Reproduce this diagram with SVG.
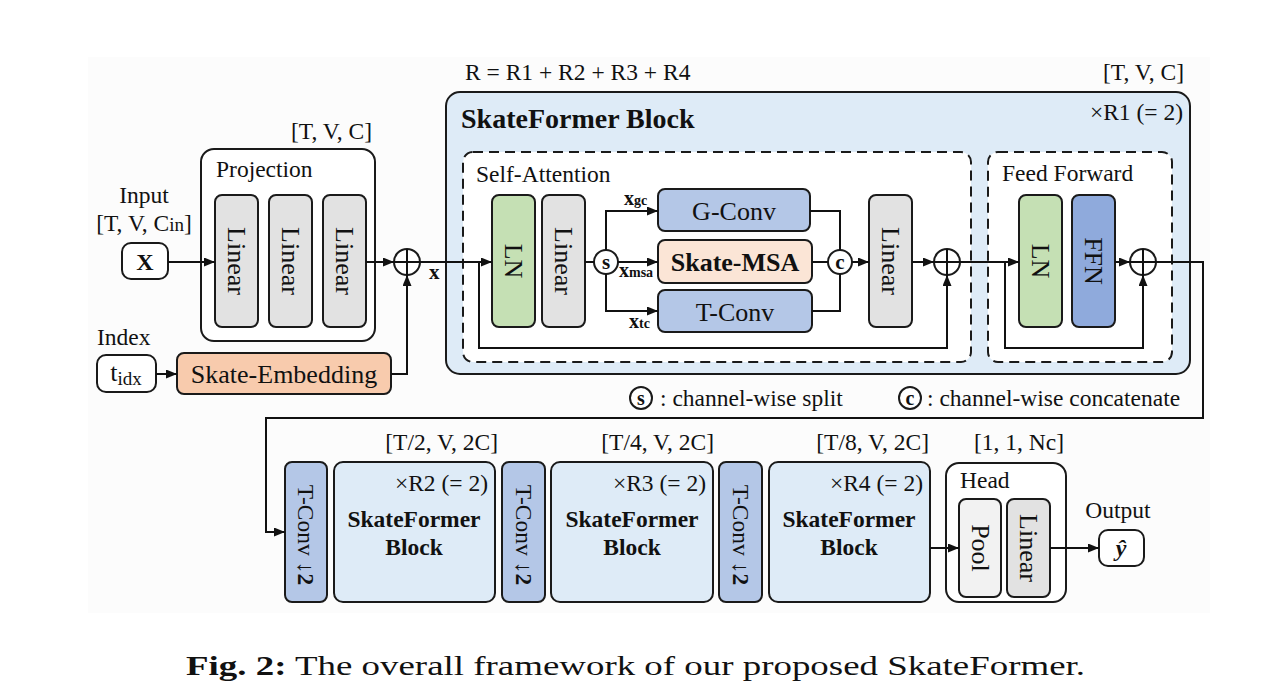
<svg xmlns="http://www.w3.org/2000/svg" width="1274" height="695" viewBox="0 0 1274 695">
<defs>
<marker id="ah" markerUnits="userSpaceOnUse" markerWidth="11" markerHeight="9" refX="11" refY="4.5" orient="auto"><path d="M0,0 L11,4.5 L0,9 z" fill="#111"/></marker>
<style>
text{font-family:"Liberation Serif","Times New Roman",serif;fill:#111}
.t{font-size:23.5px}
.tb{font-size:26px}
.b{font-weight:bold}
.box{stroke:#1a1a1a;stroke-width:2}
.dash{fill:#fff;stroke:#1a1a1a;stroke-width:2;stroke-dasharray:10 6}
.c{stroke:#111;stroke-width:2;fill:none}
.ca{stroke:#111;stroke-width:2;fill:none;marker-end:url(#ah)}
.mid{text-anchor:middle;dominant-baseline:central}
.gray{fill:#e2e2e2}.green{fill:#c5e0b4}.blue{fill:#b4c7e7}.dblue{fill:#8faadc}.lblue{fill:#deebf7}.peach{fill:#fbe5d6}.orange{fill:#f8cbad}.white{fill:#fff}.lgray{fill:#f2f2f2}
</style>
</defs>
<rect x="88" y="57" width="1122" height="556" fill="#fcfcfc"/>

<g id="labels">
<text class="t" x="465" y="80">R = R1 + R2 + R3 + R4</text>
<text class="t" x="1184" y="80" text-anchor="end">[T, V, C]</text>
<text class="t" x="372" y="139" text-anchor="end">[T, V, C]</text>
<text class="t" x="144" y="203" text-anchor="middle">Input</text>
<text class="t" x="144" y="231" text-anchor="middle">[T, V, C<tspan font-size="19">in</tspan>]</text>
<text class="t" x="97" y="345">Index</text>
<text class="t" x="498" y="450" text-anchor="end">[T/2, V, 2C]</text>
<text class="t" x="714" y="450" text-anchor="end">[T/4, V, 2C]</text>
<text class="t" x="929" y="450" text-anchor="end">[T/8, V, 2C]</text>
<text class="t" x="1064" y="450" text-anchor="end">[1, 1, Nc]</text>
<text class="t" x="1118" y="518" text-anchor="middle">Output</text>
<text class="b" x="429" y="279" font-size="21">x</text>
</g>

<g id="skateformer-block">
<rect class="box lblue" x="446" y="92" width="744" height="282" rx="14"/>
<text class="b" x="461" y="128" font-size="28">SkateFormer Block</text>
<text class="t" x="1183" y="120" text-anchor="end">×R1 (= 2)</text>
</g>

<g id="self-attention">
<rect class="dash" x="463" y="152" width="508" height="210" rx="10"/>
<text class="t" x="476" y="182">Self-Attention</text>
</g>
<g id="feed-forward">
<rect class="dash" x="988" y="152" width="184" height="210" rx="10"/>
<text class="t" x="1002" y="181">Feed Forward</text>
</g>

<g id="projection">
<rect class="box white" x="201" y="149" width="174" height="192" rx="13"/>
<text class="t" x="216" y="177">Projection</text>
</g>
<g id="proj-linear1"><rect class="box gray" x="215" y="195" width="43" height="132" rx="7"/><text class="tb mid" transform="translate(236.5,261) rotate(90)">Linear</text></g>
<g id="proj-linear2"><rect class="box gray" x="269" y="195" width="43" height="132" rx="7"/><text class="tb mid" transform="translate(290.5,261) rotate(90)">Linear</text></g>
<g id="proj-linear3"><rect class="box gray" x="323" y="195" width="43" height="132" rx="7"/><text class="tb mid" transform="translate(344.5,261) rotate(90)">Linear</text></g>

<g id="input-x"><rect class="box white" x="122" y="243" width="46" height="36" rx="9"/><text class="b mid" x="145" y="262" font-size="24">X</text></g>
<g id="input-tidx"><rect class="box white" x="97" y="355" width="59" height="37" rx="9"/><text class="tb mid" x="126" y="372">t<tspan font-size="19" dy="6">idx</tspan></text></g>
<g id="skate-embedding"><rect class="box orange" x="177" y="353" width="214" height="41" rx="7"/><text class="tb mid" x="284" y="374">Skate-Embedding</text></g>

<g id="add-proj"><circle class="box white" cx="407" cy="262" r="13"/><path class="c" d="M394,262 H420 M407,249 V275"/></g>

<g id="sa-ln"><rect class="box green" x="492" y="195" width="43" height="132" rx="7"/><text class="tb mid" transform="translate(513.5,261) rotate(90)">LN</text></g>
<g id="sa-linear1"><rect class="box gray" x="542" y="195" width="43" height="132" rx="7"/><text class="tb mid" transform="translate(563.5,261) rotate(90)">Linear</text></g>
<g id="split"><circle class="box white" cx="606" cy="262" r="12"/><text class="b mid" x="606" y="262" font-size="21">s</text></g>
<g id="g-conv"><rect class="box blue" x="658" y="189" width="152" height="42" rx="7"/><text class="tb mid" x="734" y="211">G-Conv</text></g>
<g id="skate-msa"><rect class="box peach" x="658" y="240" width="154" height="43" rx="7"/><text class="tb b mid" x="735" y="262">Skate-MSA</text></g>
<g id="t-conv"><rect class="box blue" x="658" y="290" width="154" height="42" rx="7"/><text class="tb mid" x="735" y="312">T-Conv</text></g>
<g id="concat"><circle class="box white" cx="840" cy="262" r="12"/><text class="b mid" x="840" y="262" font-size="21">c</text></g>
<g id="sa-linear2"><rect class="box gray" x="869" y="195" width="43" height="132" rx="7"/><text class="tb mid" transform="translate(890.5,261) rotate(90)">Linear</text></g>
<g id="add-sa"><circle class="box white" cx="947" cy="262" r="13"/><path class="c" d="M934,262 H960 M947,249 V275"/></g>

<g id="sub-labels">
<text class="b" x="624" y="205" font-size="20">x<tspan font-size="14">gc</tspan></text>
<text class="b" x="619" y="277" font-size="20">x<tspan font-size="14">msa</tspan></text>
<text class="b" x="629" y="328" font-size="20">x<tspan font-size="14">tc</tspan></text>
</g>

<g id="ff-ln"><rect class="box green" x="1019" y="195" width="43" height="132" rx="7"/><text class="tb mid" transform="translate(1040.5,261) rotate(90)">LN</text></g>
<g id="ff-ffn"><rect class="box dblue" x="1072" y="195" width="43" height="132" rx="7"/><text class="tb mid" transform="translate(1093.5,261) rotate(90)">FFN</text></g>
<g id="add-ff"><circle class="box white" cx="1143" cy="262" r="13"/><path class="c" d="M1130,262 H1156 M1143,249 V275"/></g>

<g id="legend">
<circle class="box white" cx="641" cy="398" r="11"/><text class="b mid" x="641" y="398" font-size="20">s</text>
<text class="t" x="660" y="406">: channel-wise split</text>
<circle class="box white" cx="910" cy="398" r="11"/><text class="b mid" x="910" y="398" font-size="20">c</text>
<text class="t" x="927" y="406">: channel-wise concatenate</text>
</g>

<g id="tconv-1"><rect class="box blue" x="285" y="462" width="42" height="140" rx="7"/><text class="t mid" font-size="24" transform="translate(306,535) rotate(90)">T-Conv ↓<tspan class="b">2</tspan></text></g>
<g id="block-2"><rect class="box lblue" x="334" y="462" width="161" height="140" rx="9"/><text class="t" x="488" y="491" text-anchor="end">×R2 (= 2)</text><text class="b" x="414" y="527" font-size="23.5" text-anchor="middle">SkateFormer</text><text class="b" x="414" y="555" font-size="23.5" text-anchor="middle">Block</text></g>
<g id="tconv-2"><rect class="box blue" x="502" y="462" width="43" height="140" rx="7"/><text class="t mid" font-size="24" transform="translate(523.5,535) rotate(90)">T-Conv ↓<tspan class="b">2</tspan></text></g>
<g id="block-3"><rect class="box lblue" x="551" y="462" width="162" height="140" rx="9"/><text class="t" x="706" y="491" text-anchor="end">×R3 (= 2)</text><text class="b" x="632" y="527" font-size="23.5" text-anchor="middle">SkateFormer</text><text class="b" x="632" y="555" font-size="23.5" text-anchor="middle">Block</text></g>
<g id="tconv-3"><rect class="box blue" x="719" y="462" width="43" height="140" rx="7"/><text class="t mid" font-size="24" transform="translate(740.5,535) rotate(90)">T-Conv ↓<tspan class="b">2</tspan></text></g>
<g id="block-4"><rect class="box lblue" x="769" y="462" width="161" height="140" rx="9"/><text class="t" x="923" y="491" text-anchor="end">×R4 (= 2)</text><text class="b" x="849" y="527" font-size="23.5" text-anchor="middle">SkateFormer</text><text class="b" x="849" y="555" font-size="23.5" text-anchor="middle">Block</text></g>

<g id="head"><rect class="box white" x="946" y="463" width="120" height="139" rx="13"/><text class="t" x="960" y="488">Head</text></g>
<g id="head-pool"><rect class="box lgray" x="959" y="499" width="42" height="98" rx="7"/><text class="tb mid" transform="translate(980,548) rotate(90)">Pool</text></g>
<g id="head-linear"><rect class="box gray" x="1007" y="499" width="43" height="98" rx="7"/><text class="tb mid" transform="translate(1028.5,548) rotate(90)">Linear</text></g>
<g id="output"><rect class="box white" x="1099" y="530" width="45" height="36" rx="9"/><text class="b mid" x="1121" y="548" font-size="24" font-style="italic">ŷ</text></g>

<g id="connectors">
<path class="ca" d="M168,262 H215"/>
<path class="ca" d="M366,262 H394"/>
<path class="ca" d="M156,374 H177"/>
<path class="ca" d="M391,374 H407 V275"/>
<path class="ca" d="M420,262 H492"/>
<path class="ca" d="M479,262 V348 H947 V275"/>
<path class="c" d="M585,262 H594"/>
<path class="ca" d="M606,250 V211 H658"/>
<path class="ca" d="M618,262 H658"/>
<path class="ca" d="M606,274 V311 H658"/>
<path class="c" d="M810,211 H840 V250"/>
<path class="c" d="M812,311 H840 V274"/>
<path class="c" d="M812,262 H828"/>
<path class="ca" d="M852,262 H869"/>
<path class="ca" d="M912,262 H934"/>
<path class="ca" d="M960,262 H1019"/>
<path class="ca" d="M1005,262 V348 H1143 V275"/>
<path class="ca" d="M1115,262 H1130"/>
<path class="ca" d="M1156,262 H1203 V418 H266 V532 H285"/>
<path class="ca" d="M930,548 H959"/>
<path class="ca" d="M1050,548 H1099"/>
</g>

<g id="caption">
<text x="186" y="675" font-size="28" textLength="899" lengthAdjust="spacingAndGlyphs"><tspan font-weight="bold">Fig. 2:</tspan> The overall framework of our proposed SkateFormer.</text>
</g>
</svg>
